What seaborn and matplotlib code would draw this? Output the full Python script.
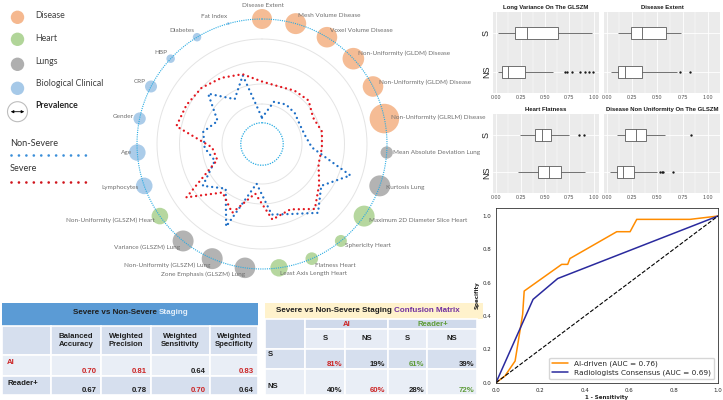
import numpy as np
import pandas as pd
import matplotlib
matplotlib.use("Agg")
import matplotlib.pyplot as plt
import seaborn as sns
from matplotlib.patches import Rectangle, Circle, FancyArrowPatch

# -----------------------------
# 1. Data
# -----------------------------

# radar features, clockwise from the top
features = ["Disease Extent", "Mesh Volume Disease", "Voxel Volume Disease",
            "Non-Uniformity (GLDM) Disease", "Non-Uniformity (GLDM) Disease",
            "Non-Uniformity (GLRLM) Disease", "Mean Absolute Deviation Lung",
            "Kurtosis Lung", "Maximum 2D Diameter Slice Heart", "Sphericity Heart",
            "Flatness Heart", "Least Axis Length Heart", "Zone Emphasis (GLSZM) Lung",
            "Non-Uniformity (GLSZM) Lung", "Variance (GLSZM) Lung",
            "Non-Uniformity (GLSZM) Heart", "Lymphocytes", "Age", "Gender", "CRP",
            "HBP", "Diabetes", "Fat Index"]
feature_group = (["Disease"] * 6 + ["Lungs"] * 2 + ["Heart"] * 4 + ["Lungs"] * 3
                 + ["Heart"] + ["Biological Clinical"] * 7)
prevalence = [10.0, 11.0, 10.6, 11.7, 10.6, 21.9, 3.8, 11.0, 11.0, 3.6, 4.0, 7.6,
              10.6, 11.0, 11.0, 6.9, 6.9, 6.9, 3.8, 3.6, 1.8, 1.8, 0.2]
severe = [0.50, 0.48, 0.50, 0.51, 0.46, 0.49, 0.48, 0.48, 0.56, 0.67, 0.57, 0.61,
          0.40, 0.60, 0.50, 0.74, 0.38, 0.40, 0.70, 0.68, 0.66, 0.62, 0.58]
non_severe = [0.21, 0.35, 0.37, 0.36, 0.34, 0.35, 0.40, 0.75, 0.58, 0.71, 0.61, 0.57,
              0.32, 0.72, 0.46, 0.58, 0.40, 0.46, 0.48, 0.40, 0.59, 0.42, 0.57]
group_names = ["Disease", "Heart", "Lungs", "Biological Clinical"]

# boxplots: (whisker low, Q1, median, Q3, whisker high, outliers)
box_titles = ["Long Variance On The GLSZM", "Disease Extent", "Heart Flatness",
              "Disease Non Uniformity On The GLSZM"]
box_s = [(0.02, 0.19, 0.31, 0.63, 0.98, []),
         (0.115, 0.24, 0.345, 0.585, 0.73, []),
         (0.24, 0.40, 0.465, 0.56, 0.745, [0.85, 0.90]),
         (0.105, 0.185, 0.29, 0.385, 0.58, [0.835])]
box_ns = [(0.02, 0.06, 0.12, 0.29, 0.58, [0.70, 0.73, 0.78, 0.86, 0.91, 0.95, 0.99]),
          (0.04, 0.11, 0.18, 0.35, 0.69, [0.725, 0.82]),
          (0.22, 0.43, 0.545, 0.66, 0.91, []),
          (0.035, 0.10, 0.16, 0.27, 0.50, [0.53, 0.545, 0.56, 0.655])]
box_ticks = [0.0, 0.25, 0.5, 0.75, 1.0]

# ROC curves
ai_fpr = [0.0, 0.04, 0.086, 0.12, 0.127, 0.296, 0.323, 0.333, 0.544, 0.604, 0.634, 0.874, 1.0]
ai_tpr = [0.0, 0.04, 0.13, 0.41, 0.55, 0.71, 0.71, 0.745, 0.906, 0.906, 0.98, 0.98, 1.0]
rad_fpr = [0.0, 0.167, 0.278, 1.0]
rad_tpr = [0.0, 0.50, 0.625, 1.0]
chance = [0.0, 1.0]
ai_auc = 0.76
rad_auc = 0.69

# tables
metric_names = ["Balanced\nAccuracy", "Weighted\nPrecision", "Weighted\nSensitivity",
                "Weighted\nSpecificity"]
ai_scores = [0.70, 0.81, 0.64, 0.83]
reader_scores = [0.67, 0.78, 0.70, 0.64]
cm_classes = ["S", "NS"]
cm_ai = [[81, 19], [40, 60]]
cm_reader = [[61, 39], [28, 72]]

# -----------------------------
# 2. Style
# -----------------------------
W, H = 723, 400
PT = 0.72  # points per pixel at dpi 100

group_colors = {"Disease": "#f4b183", "Heart": "#a9d18e", "Lungs": "#a6a6a6",
                "Biological Clinical": "#9dc3e6"}
RED = "#e3161e"
BLUE = "#1e6fc6"
CYAN = "#29abe2"
TRED = "#cc2424"
TGREEN = "#5e9b3a"
PURPLE = "#7030a0"
DARK = "#1f1f1f"

sns.set_style("white")
plt.rcParams["font.family"] = ["DejaVu Sans"]

fig = plt.figure(figsize=(W / 100, H / 100), dpi=100)

# overlay in pixel coordinates for the legend and the tables
ov = fig.add_axes([0, 0, 1, 1])
ov.set_xlim(0, W)
ov.set_ylim(H, 0)
ov.axis("off")
ov.set_zorder(0)

# -----------------------------
# 3. Radar
# -----------------------------
ax_r = fig.add_axes([112 / W, 106 / H, 300 / W, 300 / H])
ax_r.set_xlim(-1.2, 1.2)
ax_r.set_ylim(-1.2, 1.2)
ax_r.set_aspect("equal")
ax_r.axis("off")
ax_r.patch.set_alpha(0)

n = len(features)
theta = np.arange(n) * 2 * np.pi / n
bx = np.sin(theta)
by = np.cos(theta)
t = np.linspace(0, 2 * np.pi, 361)

for rr in [0.32, 0.48, 0.66, 0.84]:
    ax_r.plot(rr * np.sin(t), rr * np.cos(t), color="#e4e4e4", lw=0.7, zorder=1)
ax_r.plot(0.17 * np.sin(t), 0.17 * np.cos(t), color=CYAN, lw=0.9, ls=(0, (1, 1)), zorder=1)

pmin, pmax = min(prevalence), max(prevalence)
sns.scatterplot(x=bx, y=by, hue=feature_group, palette=group_colors, size=prevalence,
                sizes=(20.7 * pmin, 20.7 * pmax), legend=False, alpha=0.85,
                linewidth=0, ax=ax_r, zorder=3)
ax_r.plot(np.sin(t), np.cos(t), color=CYAN, lw=0.8, ls=(0, (1, 1)), zorder=4)

th = np.r_[theta, theta[:1]]
for values, color in ((non_severe, BLUE), (severe, RED)):
    v = np.r_[values, values[:1]]
    ax_r.plot(v * np.sin(th), v * np.cos(th), color=color, lw=1.7,
              ls=(0, (0.01, 2.1)), dash_capstyle="round", zorder=2)

# label offsets in pixels (right, up)
label_dx = [1, 2, 3, 4.6, 6, 6.6, 6, 6, 5, 4, 3, 1,
            0, -2, -3, -5, -6, -5, -5.6, -5, -3.6, -3, -1]
label_dy = [13, 8, 7, 5.7, 4.5, 1.6, 0, -2, -4, -5, -6.4, -6,
            -6, -6.4, -6, -4, -2, 0, 1.6, 4.5, 5.7, 7, 7.6]
for i, name in enumerate(features):
    ha = "center" if i == 0 else ("left" if i <= 11 else "right")
    ax_r.annotate(name, xy=(bx[i], by[i]), xytext=(label_dx[i] * PT, label_dy[i] * PT),
                  textcoords="offset points", ha=ha, va="center", fontsize=4.6,
                  color="#6e6e6e", family="Lato", zorder=5)

# legend
leg_y = [17.3, 39.3, 64.3, 88.3]
leg_ty = [16, 38.3, 61, 83.3]
for g, cy, ty in zip(group_names, leg_y, leg_ty):
    ov.add_patch(Circle((17.5, cy), 6.7, facecolor=group_colors[g], edgecolor="none", alpha=0.9))
    ov.text(35.7, ty, g, fontsize=6.3, color="#404040", va="center", family="Lato")
ov.add_patch(Circle((17.5, 111.7), 10, facecolor="none", edgecolor="#bdbdbd", lw=0.8))
ov.add_patch(FancyArrowPatch((8, 111.7), (27, 111.7), arrowstyle="<|-|>",
                             mutation_scale=4, color="black", lw=0.6))
ov.text(35.7, 106, "Prevalence", fontsize=6.3, fontweight="bold", color="#262626",
        va="center", family="Lato")
ov.text(10, 143.3, "Non-Severe", fontsize=6.6, color="#333333", va="center", family="Lato")
ov.plot([11, 92.3], [155, 155], color="#3b8fd9", lw=1.94, ls=(0, (0.01, 2.75)),
        dash_capstyle="round")
ov.text(10, 168.3, "Severe", fontsize=6.6, color="#333333", va="center", family="Lato")
ov.plot([11, 92.3], [181.7, 181.7], color="#d0141c", lw=1.94, ls=(0, (0.01, 2.75)),
        dash_capstyle="round")

# -----------------------------
# 4. Boxplots
# -----------------------------
def box_points(stats):
    """Read five-number summary + outliers as a list of points; box edges repeated
    so the quartiles land on the read values"""
    lo, q1, med, q3, hi, outs = stats
    return [lo] + [q1] * 10 + [med] * 10 + [q3] * 10 + [hi] + list(outs)

box_pos = [(493, 12, 599, 93), (604, 12, 720, 93), (493, 114, 599, 193), (604, 114, 720, 193)]
box_xlim = [(-0.034, 1.054), (-0.027, 1.118), (-0.034, 1.054), (-0.027, 1.118)]

for i in range(4):
    x0, y0, x1, y1 = box_pos[i]
    ax = fig.add_axes([x0 / W, 1 - y1 / H, (x1 - x0) / W, (y1 - y0) / H])
    rows = [("S", v) for v in box_points(box_s[i])] + [("NS", v) for v in box_points(box_ns[i])]
    df = pd.DataFrame(rows, columns=["group", "value"])
    ax.set_facecolor("#EBEBEB")
    sns.boxplot(data=df, x="value", y="group", order=["S", "NS"], ax=ax, color="white",
                linecolor="#5a5a5a", linewidth=0.6, width=0.31, whis=1.5, showcaps=False,
                fliersize=1.3,
                flierprops=dict(marker="o", markerfacecolor="#1a1a1a", markeredgecolor="#1a1a1a",
                                markeredgewidth=0.3))
    ax.set_xlim(*box_xlim[i])
    ax.set_ylim(1.55, -0.55)
    ax.set_xticks(box_ticks)
    ax.set_xticklabels([f"{v:.2f}" for v in box_ticks], fontsize=3.8, color="#4d4d4d",
                       family="Liberation Sans")
    ax.set_xticks([0.125, 0.375, 0.625, 0.875], minor=True)
    ax.grid(True, which="major", color="white", lw=0.6)
    ax.grid(True, which="minor", axis="x", color="white", lw=0.3)
    ax.set_axisbelow(True)
    ax.tick_params(axis="both", which="both", length=0, pad=1.5)
    for s in ax.spines.values():
        s.set_visible(False)
    ax.set_xlabel("")
    ax.set_ylabel("")
    if i % 2 == 0:
        ax.set_yticks([0, 1])
        ax.set_yticklabels(["S", "NS"], rotation=90, fontsize=6.5, color="#222222",
                           va="center", family="Liberation Sans")
    else:
        ax.set_yticklabels([])
    ax.set_title(box_titles[i], fontsize=4.3, fontweight="bold", pad=2.5,
                 family="Liberation Sans", color="#1a1a1a")

# -----------------------------
# 5. ROC
# -----------------------------
ax_roc = fig.add_axes([496 / W, 1 - 382.7 / H, 222 / W, (382.7 - 207.7) / H])
sns.lineplot(x=ai_fpr, y=ai_tpr, ax=ax_roc, color="darkorange", lw=1.1, estimator=None,
             sort=False, label=f"AI-driven (AUC = {ai_auc:.2f})")
sns.lineplot(x=rad_fpr, y=rad_tpr, ax=ax_roc, color="#2a2a9e", lw=1.1, estimator=None,
             sort=False, label=f"Radiologists Consensus (AUC = {rad_auc:.2f})")
ax_roc.plot(chance, chance, color="black", lw=0.8, ls="--")
ax_roc.set_xlim(0, 1)
ax_roc.set_ylim(0, 1.05)
ax_roc.set_xticks(np.linspace(0, 1, 6))
ax_roc.set_yticks(np.linspace(0, 1, 6))
ax_roc.tick_params(labelsize=4, length=2, width=0.5, pad=1.5)
for s in ax_roc.spines.values():
    s.set_linewidth(0.6)
    s.set_color("#333333")
ax_roc.set_xlabel("1 - Sensitivity", fontsize=4, fontweight="bold", labelpad=1.5)
ax_roc.set_ylabel("Specifity", fontsize=4, fontweight="bold", labelpad=2)
ax_roc.legend(loc="lower right", fontsize=5.3, handlelength=2.2, borderpad=0.4,
              labelspacing=0.3, frameon=True)

# -----------------------------
# 6. Tables
# -----------------------------
TF = "Liberation Sans"

def cell(x0, y0, x1, y1, color):
    ov.add_patch(Rectangle((x0, y0), x1 - x0, y1 - y0, facecolor=color,
                           edgecolor="white", lw=1.2))

# staging metrics table
ov.add_patch(Rectangle((2, 303), 256, 23, facecolor="#5b9bd5", edgecolor="none"))
t1 = ov.text(73, 312, "Severe vs Non-Severe", fontsize=5.8, fontweight="bold",
             color=DARK, va="center", ha="left", family=TF)
ov.annotate("Staging", xy=(1, 0.5), xycoords=t1, xytext=(1.6, 0), textcoords="offset points",
            fontsize=5.8, fontweight="bold", color="#e3eef9", va="center", ha="left", family=TF)

lt_cols = [2, 51, 101, 151, 210, 258]
lt_rows = [326, 355, 376, 395]
lt_fill = ["#d6dfee", "#e9eef6", "#d6dfee"]
for r in range(3):
    for c in range(5):
        cell(lt_cols[c], lt_rows[r], lt_cols[c + 1], lt_rows[r + 1], lt_fill[r])
for c, name in enumerate(metric_names):
    ov.text((lt_cols[c + 1] + lt_cols[c + 2]) / 2, 340.5, name, fontsize=5.6,
            fontweight="bold", color=DARK, ha="center", va="center", family=TF,
            linespacing=1.15)
ov.text(7, 363, "AI", fontsize=5.6, fontweight="bold", color=TRED, va="center", family=TF)
ov.text(7, 383.5, "Reader+", fontsize=5.6, fontweight="bold", color=DARK, va="center", family=TF)
for r, scores in enumerate([ai_scores, reader_scores]):
    other = reader_scores if r == 0 else ai_scores
    for c, v in enumerate(scores):
        col = TRED if v > other[c] else DARK
        ov.text(lt_cols[c + 2] - 4, lt_rows[r + 2] - 4.5, f"{v:.2f}", fontsize=5.6,
                fontweight="bold", color=col, ha="right", va="center", family=TF)

# confusion matrix table
ov.add_patch(Rectangle((265, 303), 218, 16, facecolor="#fff2cc", edgecolor="none"))
t2 = ov.text(276, 311, "Severe vs Non-Severe Staging", fontsize=5.8, fontweight="bold",
             color=DARK, va="center", ha="left", family=TF)
ov.annotate("Confusion Matrix", xy=(1, 0.5), xycoords=t2, xytext=(1.6, 0),
            textcoords="offset points", fontsize=5.8, fontweight="bold", color=PURPLE,
            va="center", ha="left", family=TF)

rt_cols = [265, 305, 345, 388, 427, 477]
rt_rows = [319, 329, 349, 369, 395]
cell(rt_cols[0], rt_rows[0], rt_cols[1], rt_rows[2], "#d0daeb")
cell(rt_cols[1], rt_rows[0], rt_cols[3], rt_rows[1], "#d0daeb")
cell(rt_cols[3], rt_rows[0], rt_cols[5], rt_rows[1], "#d0daeb")
for c in range(4):
    cell(rt_cols[c + 1], rt_rows[1], rt_cols[c + 2], rt_rows[2], "#e7ecf5")
    ov.text((rt_cols[c + 1] + rt_cols[c + 2]) / 2, 339, cm_classes[c % 2], fontsize=5.6,
            fontweight="bold", color=DARK, ha="center", va="center", family=TF)
ov.text((rt_cols[1] + rt_cols[3]) / 2, 324, "AI", fontsize=5.6, fontweight="bold",
        color=TRED, ha="center", va="center", family=TF)
ov.text((rt_cols[3] + rt_cols[5]) / 2, 324, "Reader+", fontsize=5.6, fontweight="bold",
        color=TGREEN, ha="center", va="center", family=TF)

rt_fill = ["#d6dfee", "#e9eef6"]
rt_label_y = [355, 387]
for r, cls in enumerate(cm_classes):
    y0, y1 = rt_rows[r + 2], rt_rows[r + 3]
    for c in range(5):
        cell(rt_cols[c], y0, rt_cols[c + 1], y1, rt_fill[r])
    ov.text(268, rt_label_y[r], cls, fontsize=5.6, fontweight="bold", color=DARK,
            va="center", family=TF)
    row_vals = cm_ai[r] + cm_reader[r]
    for c, v in enumerate(row_vals):
        if c % 2 == r:
            col = TRED if c < 2 else TGREEN
        else:
            col = DARK
        ov.text(rt_cols[c + 2] - 3, y1 - 4, f"{v}%", fontsize=5.6, fontweight="bold",
                color=col, ha="right", va="center", family=TF)

fig.savefig("out.png", dpi=100)
